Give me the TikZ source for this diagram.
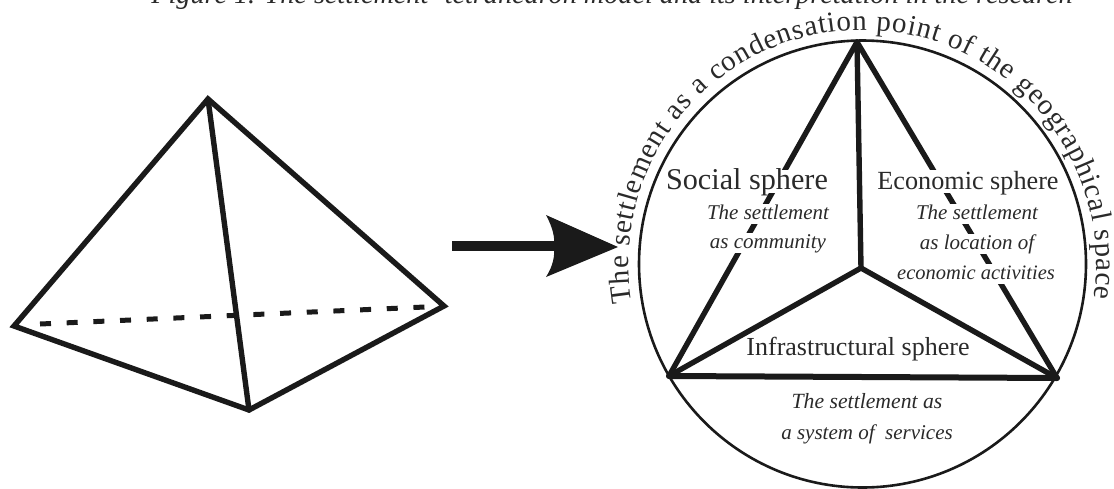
\documentclass[tikz,border=0pt]{standalone}
\usepackage{fontspec}
\setmainfont{Liberation Serif}
\usetikzlibrary{decorations.text}
\definecolor{ink}{HTML}{1A1A1A}
\definecolor{txt}{HTML}{2A2A2A}
\newcommand{\fs}[1]{\fontsize{#1}{#1}\selectfont}
\tikzset{
  x=1pt,y=-1pt,
  edge/.style={draw=ink,line width=5.4pt,line join=miter,line cap=round},
  hidden/.style={draw=ink,line width=5pt,dash pattern=on 11pt off 15.7pt},
  head/.style={text=txt,anchor=base,inner sep=0pt,fill=white,font=\fs{26.2},text height=19pt,text depth=4pt},
  note/.style={text=txt,anchor=base,inner sep=0pt,fill=white,font=\fs{21}\itshape,text height=15pt,text depth=5pt},
  plain/.style={text=txt,anchor=base,inner sep=0pt},
}
\begin{document}
\begin{tikzpicture}
\useasboundingbox (0,0) rectangle (1114,488);
\node[plain,font=\fs{28.2}\itshape] (title) at (612,3) {Figure 1. The settlement- tetrahedron model and its interpretation in the research};
% tetrahedron
\coordinate (T) at (208,99);
\coordinate (L) at (14,326);
\coordinate (B) at (249,410);
\coordinate (R) at (444,306);
\draw[hidden] (40,324) -- (425,307);
\draw[edge] (T) -- (L) -- (B) -- (R) -- cycle;
\draw[edge] (T) -- (B);
% arrow
\coordinate (as) at (452,246);
\coordinate (an) at (554,246);
\draw[draw=ink,line width=10pt] (as) -- (an);
\fill[ink] (618,247) -- (546,215) .. controls (553,228) and (555,238) .. (an) .. controls (555,256) and (553,266) .. (546,277) -- cycle;
% circle model
\coordinate (C) at (862.5,264);
\node[draw=ink,line width=2.6pt,circle,minimum size=447pt,inner sep=0pt] (ringnode) at (C) {};
\coordinate (A) at (857,42);
\coordinate (O) at (861,268);
\coordinate (P) at (669,376);
\coordinate (Q) at (1057,378);
\draw[edge] (A) -- (P);
\draw[edge] (A) -- (Q);
\draw[edge] (A) -- (O);
\draw[edge] (O) -- (P);
\draw[edge] (O) -- (Q);
\draw[edge,line width=6pt] (P) -- (Q);
% labels
\node[head,font=\fs{30.2}] (soc) at (747,189) {Social sphere};
\node[head] (eco) at (968,189) {Economic sphere};
\node[plain,font=\fs{26}] (inf) at (858,355) {Infrastructural sphere};
\node[note] (s1) at (768,219) {The settlement};
\node[note] (s2) at (768,248) {as community};
\node[note] (e1) at (977,219) {The settlement};
\node[note] (e2) at (977,249) {as location of};
\node[note,font=\fs{20.5}\itshape] (e3) at (976,279) {economic activities};
\node[plain,font=\fs{21.7}\itshape] (i1) at (867,408) {The settlement as};
\node[plain,font=\fs{21}\itshape] (i2) at (867,439) {a system of \ services};
% curved text
\path[decorate,decoration={text along path,text align={fit to path},
  text={|\fs{29}\color{txt}|The settlement as a condensation point of the geographical space}}]
  (C) ++(189.5:234pt) arc[start angle=189.5,end angle=-8.5,radius=234pt];
\end{tikzpicture}
\end{document}
